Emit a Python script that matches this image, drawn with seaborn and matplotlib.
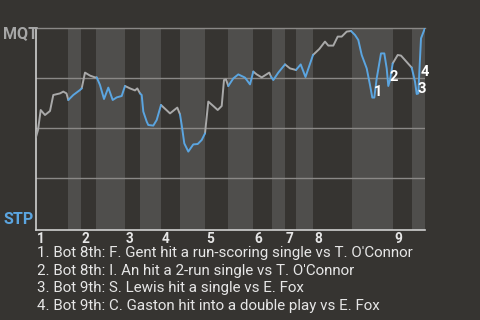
import numpy as np
import pandas as pd
import matplotlib
matplotlib.use("Agg")
import matplotlib.pyplot as plt
import matplotlib.transforms as mtransforms
import seaborn as sns

# ---- data ----
progress = [0, 2, 4.7, 9, 14, 17.3, 24, 27.3, 30.5, 32.3, 37.3, 44, 45.7, 49, 54, 59, 60.7,
            64, 68, 72.3, 76.7, 80.7, 85.7, 89, 94, 99, 101.3, 104, 105.7, 107.3, 110.7,
            112.3, 117.3, 120.7, 125, 134, 139, 141.3, 144, 145.7, 148.3, 152.3, 157.3,
            161.7, 165.7, 169, 172.3, 177.3, 181.7, 185.7, 188, 190, 192.3, 197.3, 202.3,
            209, 214, 217.3, 220.7, 225.7, 233.3, 235, 237.3, 242.3, 249, 254, 260, 264.7,
            269.5, 277, 283.3, 289, 292.3, 297.3, 301.7, 305.7, 310.7, 315, 319, 322.3,
            325.7, 330.7, 334, 336.3, 338.3, 340.7, 345, 348.3, 350.7, 352.3, 354, 356.7,
            361.7, 365, 375.7, 379, 380.7, 382.3, 385, 389]
mqt_win_pct = [45.5, 49, 59, 56.5, 58.5, 66.5, 67.3, 68.2, 67.3, 64, 66.5, 69, 69.8, 77.7,
               76.2, 75.3, 75.3, 71.5, 64.5, 70.2, 64, 65.3, 66, 71, 69.8, 68.8, 69.8, 67.3,
               66.5, 58.2, 53.2, 51.5, 51.2, 54, 61.5, 57.3, 59.3, 60.2, 56.8, 51.5, 42.3,
               38.2, 41.8, 42, 44, 47.3, 63.2, 61, 59, 61, 74, 74.3, 71, 74.8, 76.8, 75.2,
               71.8, 78.2, 76.8, 75.3, 77.7, 75.7, 74, 77.7, 81.8, 79.8, 79, 81.8, 75.5,
               86.5, 89.5, 93.2, 91.2, 91.2, 95.7, 95.7, 98.2, 98.5, 96.5, 94, 86.5, 79.8,
               71.5, 65.2, 65.2, 74.8, 87.3, 87.3, 79.8, 71, 74, 82.3, 86.5, 86.2, 80.2,
               73.2, 67, 67.3, 94.8, 100]
half_inning_starts = [0, 32, 45, 60, 89, 104, 125, 144, 169, 192, 217, 236, 249, 260,
                      277, 316, 357, 376]
game_end = 389
inning_labels = ["1", "2", "3", "4", "5", "6", "7", "8", "9"]
teams = ["MQT", "STP"]
event_numbers = ["1", "2", "3", "4"]
event_progress = [336.3, 352.3, 380.7, 389]
event_texts = ["Bot 8th: F. Gent hit a run-scoring single vs T. O'Connor",
               "Bot 8th: I. An hit a 2-run single vs T. O'Connor",
               "Bot 9th: S. Lewis hit a single vs E. Fox",
               "Bot 9th: C. Gaston hit into a double play vs E. Fox"]

# ---- style ----
BG = "#363431"
BAND = "#4f4e4c"
GRAY_LINE = "#a9a9a9"
BLUE = "#5ba5e0"
GRID = "#8a8886"
SPINE = "#cfcfcf"
TXT = "#e6e6e6"

sns.set_theme(style="dark")
plt.rcParams["font.family"] = ["Roboto", "DejaVu Sans"]

fig = plt.figure(figsize=(4.8, 3.2), dpi=100, facecolor=BG)
ax = fig.add_axes([36 / 480, 90 / 320, 389 / 480, 202 / 320])
ax.set_facecolor(BG)

# inning bands (bottom halves lighter)
bounds = half_inning_starts + [game_end]
for i in range(len(half_inning_starts)):
    if i % 2 == 1:
        ax.axvspan(bounds[i], bounds[i + 1], color=BAND, lw=0, zorder=0)

# colour segments by batting team
x = np.array(progress, dtype=float)
y = np.array(mqt_win_pct, dtype=float)
mids = (x[:-1] + x[1:]) / 2
half_idx = np.searchsorted(np.array(half_inning_starts), mids, side="right") - 1
seg_team = np.where(half_idx % 2 == 0, teams[0], teams[1])

rows = []
run = 0
for i, t in enumerate(seg_team):
    if i > 0 and t != seg_team[i - 1]:
        run += 1
    rows.append((run, t, x[i], y[i]))
    rows.append((run, t, x[i + 1], y[i + 1]))
df = pd.DataFrame(rows, columns=["run", "team", "progress", "wp"]).drop_duplicates()

sns.lineplot(data=df, x="progress", y="wp", hue="team", units="run", estimator=None,
             sort=False, palette={teams[0]: GRAY_LINE, teams[1]: BLUE}, legend=False,
             linewidth=1.4, ax=ax, zorder=3)

ax.set_xlim(0, game_end)
ax.set_ylim(-1, 100)
ax.set_xticks([])
ax.set_yticks([])
ax.set_xlabel("")
ax.set_ylabel("")
for yy in (25, 50, 75):
    ax.axhline(yy, color=GRID, lw=1.0, zorder=1)
ax.spines["right"].set_visible(False)
ax.spines["top"].set_visible(True)
ax.spines["top"].set_color(GRID)
ax.spines["top"].set_linewidth(1.0)
for side in ("left", "bottom"):
    ax.spines[side].set_visible(True)
    ax.spines[side].set_color(SPINE)
    ax.spines[side].set_linewidth(1.2)

# event markers
offsets = [(2, 2), (1, 5), (1, 1), (-4, -48)]
for num, px, off in zip(event_numbers, event_progress, offsets):
    py = y[np.argmin(np.abs(x - px))]
    ax.annotate(num, (px, py), xytext=off, textcoords="offset pixels",
                ha="left", va="baseline", color="white", fontsize=10.5,
                fontweight="bold", zorder=5, annotation_clip=False)

# inning labels
trans = mtransforms.blended_transform_factory(ax.transData, ax.transAxes)
for lab, start in zip(inning_labels, half_inning_starts[0::2]):
    ax.text(start + 1, -0.012, lab, transform=trans, ha="left", va="top",
            color=TXT, fontsize=9.8, fontweight="bold")

# team labels
fig.text(3 / 480, 1 - 33.5 / 320, teams[0], ha="left", va="center", color="#a6a6a6",
         fontsize=11.5, fontweight="bold")
fig.text(3 / 480, 1 - 220 / 320, teams[1], ha="left", va="center", color=BLUE,
         fontsize=11.5, fontweight="bold")

# event list
for k, (num, txt) in enumerate(zip(event_numbers, event_texts)):
    fig.text(37 / 480, 1 - (253 + k * 17.6) / 320, f"{num}. {txt}", ha="left",
             va="center", color=TXT, fontsize=10.9)

fig.savefig("out.png", dpi=100, facecolor=BG)
